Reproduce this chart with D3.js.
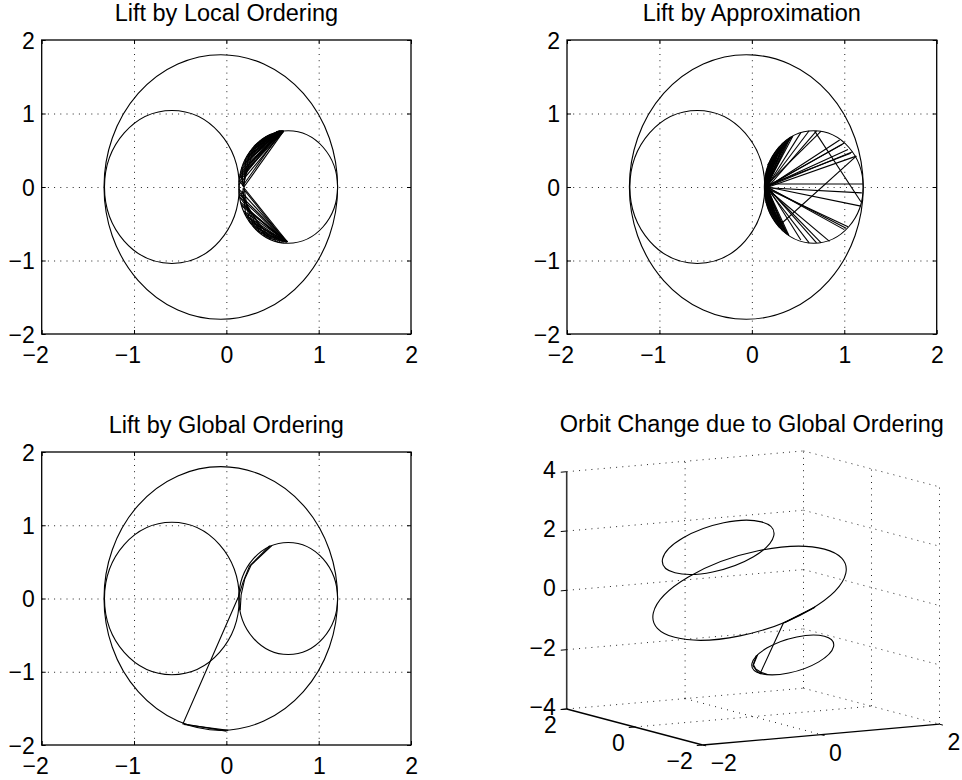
<!DOCTYPE html>
<html>
<head>
<meta charset="utf-8">
<script src="https://cdn.jsdelivr.net/npm/d3@7"></script>
<style>
    body { margin: 0; background: #fff; }
    svg text { font-family: "Liberation Sans", Arial, Helvetica, sans-serif; font-size: 23px; fill: #000; }
    svg text.title { font-size: 23.5px; }
</style>
</head>
<body>
<svg id="fig" width="962" height="780"></svg>
<script>
/* ---- data ---- */
var tickVals = [-2, -1, 0, 1, 2];
var gridVals = [-1, 0, 1];
var zTickVals = [-4, -2, 0, 2, 4];
var xyTickVals3d = [-2, 0, 2];
var titles = ["Lift by Local Ordering", "Lift by Approximation",
              "Lift by Global Ordering", "Orbit Change due to Global Ordering"];

// the three orbits (left, outer, right): centre x, half width, half height,
// z of the centre and slope dz/dx of the orbit plane
var orbitCX = [-0.59, -0.06, 0.67];
var orbitRX = [0.73, 1.265, 0.535];
var orbitRY = [1.04, 1.80, 0.765];
var orbitCZ = [1.81, 0.17, -2.04];
var orbitTilt = [1.0, 1.0, 1.0];

// lift by local ordering: segments [x1, y1, x2, y2]
var localSegs = [
    [0.19, 0.00, 0.62, 0.76], [0.18, 0.02, 0.60, 0.765], [0.135, 0.03, 0.62, 0.76],
    [0.137, 0.07, 0.58, 0.765], [0.14, 0.11, 0.62, 0.76], [0.147, 0.16, 0.60, 0.765],
    [0.156, 0.21, 0.62, 0.76], [0.167, 0.26, 0.56, 0.76], [0.181, 0.31, 0.62, 0.76],
    [0.198, 0.36, 0.59, 0.765], [0.216, 0.405, 0.62, 0.76], [0.237, 0.45, 0.57, 0.76],
    [0.26, 0.49, 0.62, 0.76], [0.285, 0.53, 0.60, 0.765], [0.312, 0.57, 0.62, 0.76],
    [0.341, 0.60, 0.58, 0.765], [0.371, 0.634, 0.62, 0.76], [0.402, 0.662, 0.60, 0.765],
    [0.444, 0.693, 0.62, 0.76],
    [0.143, 0.133, 0.61, 0.762], [0.151, 0.185, 0.59, 0.765], [0.161, 0.236, 0.61, 0.762],
    [0.174, 0.287, 0.57, 0.762], [0.189, 0.335, 0.61, 0.762], [0.207, 0.383, 0.55, 0.755],
    [0.226, 0.428, 0.61, 0.762], [0.248, 0.471, 0.58, 0.765], [0.272, 0.512, 0.61, 0.762],
    [0.298, 0.55, 0.56, 0.76], [0.326, 0.586, 0.61, 0.762], [0.356, 0.619, 0.59, 0.765],
    [0.386, 0.649, 0.61, 0.762], [0.419, 0.676, 0.57, 0.762],
    [0.19, 0.00, 0.14, 0.09], [0.19, 0.01, 0.15, 0.18], [0.18, 0.01, 0.17, 0.27],
    [0.19, 0.00, 0.21, 0.38], [0.185, 0.01, 0.25, 0.46], [0.18, 0.02, 0.30, 0.54],
    [0.19, -0.01, 0.66, -0.745], [0.18, -0.02, 0.65, -0.75], [0.135, -0.03, 0.66, -0.745],
    [0.14, -0.10, 0.66, -0.745], [0.156, -0.21, 0.64, -0.75], [0.167, -0.26, 0.66, -0.745],
    [0.19, -0.33, 0.66, -0.745], [0.216, -0.405, 0.62, -0.755], [0.237, -0.45, 0.66, -0.745],
    [0.26, -0.49, 0.60, -0.76], [0.285, -0.53, 0.66, -0.745], [0.312, -0.57, 0.56, -0.75],
    [0.341, -0.60, 0.66, -0.745], [0.40, -0.66, 0.66, -0.745], [0.46, -0.70, 0.66, -0.745],
    [0.143, -0.133, 0.65, -0.75], [0.161, -0.236, 0.66, -0.745], [0.207, -0.383, 0.65, -0.75],
    [0.248, -0.471, 0.66, -0.745], [0.298, -0.55, 0.64, -0.75], [0.37, -0.63, 0.66, -0.745],
    [0.17, -0.05, 0.30, -0.55], [0.16, -0.08, 0.36, -0.62], [0.19, 0.00, 0.25, -0.47],
    [0.15, -0.15, 0.48, -0.71], [0.18, -0.02, 0.21, -0.39], [0.14, -0.06, 0.42, -0.67],
    [0.20, -0.35, 0.46, -0.70]
];

// lift by approximation: segments [x1, y1, x2, y2]
var approxSegs = [
    [0.15, 0.00, 0.137, 0.07], [0.16, 0.00, 0.147, 0.159], [0.15, 0.01, 0.156, 0.211],
    [0.16, -0.01, 0.167, 0.262], [0.15, 0.00, 0.181, 0.311], [0.16, 0.01, 0.198, 0.359],
    [0.15, 0.00, 0.216, 0.405], [0.16, 0.00, 0.237, 0.45], [0.15, 0.02, 0.26, 0.492],
    [0.16, 0.00, 0.285, 0.531], [0.15, 0.00, 0.312, 0.568], [0.17, 0.00, 0.341, 0.603],
    [0.15, 0.01, 0.371, 0.634], [0.16, 0.00, 0.402, 0.662], [0.15, -0.01, 0.444, 0.693],
    [0.15, 0.00, 0.143, 0.133], [0.16, 0.01, 0.151, 0.185], [0.15, 0.00, 0.161, 0.236],
    [0.16, 0.00, 0.174, 0.287], [0.15, 0.01, 0.189, 0.335], [0.16, 0.00, 0.207, 0.383],
    [0.15, 0.00, 0.226, 0.428], [0.16, 0.01, 0.248, 0.471], [0.15, 0.00, 0.272, 0.512],
    [0.16, 0.00, 0.298, 0.55], [0.15, 0.01, 0.326, 0.586], [0.16, 0.00, 0.356, 0.619],
    [0.15, 0.00, 0.386, 0.649], [0.16, 0.00, 0.419, 0.676],
    [0.14, 0.10, 0.42, 0.68], [0.156, 0.211, 0.39, 0.65], [0.14, 0.05, 0.33, 0.59],
    [0.15, 0.15, 0.36, 0.62], [0.17, 0.30, 0.44, 0.69], [0.145, 0.12, 0.30, 0.55],
    [0.17, 0.02, 0.53, 0.74], [0.16, 0.00, 0.62, 0.765], [0.18, 0.01, 0.70, 0.765],
    [0.16, 0.03, 0.75, 0.76], [0.17, 0.00, 0.95, 0.64], [0.18, 0.02, 0.98, 0.58],
    [0.16, 0.00, 1.00, 0.60], [0.17, 0.01, 1.04, 0.51], [0.16, 0.02, 1.07, 0.46],
    [0.18, 0.00, 1.13, 0.42], [0.16, 0.00, 1.09, 0.48], [0.17, 0.04, 1.20, 0.04],
    [0.68, 0.76, 1.18, -0.20], [0.30, -0.52, 1.13, 0.42],
    [0.16, -0.01, 1.19, -0.08], [0.17, 0.00, 1.18, -0.26], [0.16, -0.02, 1.04, -0.54],
    [0.18, -0.01, 1.00, -0.58], [0.16, 0.00, 1.02, -0.56], [0.17, -0.03, 0.84, -0.74],
    [0.16, 0.00, 0.75, -0.76], [0.18, -0.02, 0.70, -0.76], [0.16, -0.01, 0.62, -0.76],
    [0.17, 0.00, 0.53, -0.72],
    [0.15, 0.00, 0.137, -0.07], [0.16, 0.00, 0.147, -0.159], [0.15, -0.01, 0.156, -0.211],
    [0.16, 0.01, 0.167, -0.262], [0.15, 0.00, 0.181, -0.311], [0.16, -0.01, 0.198, -0.359],
    [0.15, 0.00, 0.216, -0.405], [0.16, 0.00, 0.237, -0.45], [0.15, -0.02, 0.26, -0.492],
    [0.16, 0.00, 0.285, -0.531], [0.15, 0.00, 0.312, -0.568], [0.17, 0.00, 0.341, -0.603],
    [0.15, -0.01, 0.371, -0.634], [0.16, 0.00, 0.402, -0.662],
    [0.15, 0.00, 0.143, -0.133], [0.16, -0.01, 0.151, -0.185], [0.15, 0.00, 0.161, -0.236],
    [0.16, 0.00, 0.174, -0.287], [0.15, -0.01, 0.189, -0.335], [0.16, 0.00, 0.207, -0.383],
    [0.15, 0.00, 0.226, -0.428], [0.16, -0.01, 0.248, -0.471], [0.15, 0.00, 0.272, -0.512],
    [0.16, 0.00, 0.298, -0.55], [0.15, -0.01, 0.326, -0.586], [0.16, 0.00, 0.356, -0.619],
    [0.15, 0.00, 0.386, -0.649],
    [0.14, -0.10, 0.38, -0.64], [0.15, -0.20, 0.40, -0.66], [0.14, -0.05, 0.33, -0.59],
    [0.145, -0.12, 0.30, -0.55]
];

// lift by global ordering: strands as [x, y, z]
var globalStrands = [
    [[0.49, 0.72, -2.22], [0.27, 0.46, -2.44], [0.20, 0.27, -2.51], [0.16, 0.05, -2.55], [0.15, -0.16, -2.56]],
    [[0.47, 0.72, -2.24], [0.25, 0.44, -2.46], [0.18, 0.22, -2.53], [0.13, 0.02, -2.58],
     [-0.47, -1.71, -0.24], [0.00, -1.81, 0.23]],
    [[-0.46, -1.72, -0.23], [0.02, -1.80, 0.25]]
];

/* ---- layout ---- */
var svg = d3.select("#fig");
var panels2d = [
    { left: 41.7, top: 40, width: 369.3, height: 294, title: titles[0], segs: localSegs },
    { left: 567, top: 40, width: 369.7, height: 294, title: titles[1], segs: approxSegs },
    { left: 41.7, top: 452, width: 369.3, height: 293, title: titles[2], strands: globalStrands }
];

function fmt(d) {
    return d < 0 ? "\u2212" + Math.abs(d) : String(d);
}

/**
 * Draw one 2D orbit panel
 */
function drawPanel2d(p) {
    var x = d3.scaleLinear().domain([-2, 2]).range([p.left, p.left + p.width]);
    var y = d3.scaleLinear().domain([-2, 2]).range([p.top + p.height, p.top]);
    var g = svg.append("g");

    // dotted grid
    var gx = g.append("g").attr("transform", "translate(0," + (p.top + p.height) + ")")
        .call(d3.axisBottom(x).tickValues(gridVals).tickSize(-p.height).tickFormat(""));
    var gy = g.append("g").attr("transform", "translate(" + p.left + ",0)")
        .call(d3.axisLeft(y).tickValues(gridVals).tickSize(-p.width).tickFormat(""));
    [gx, gy].forEach(function (a) {
        a.select(".domain").remove();
        a.selectAll("line").attr("stroke", "#222").attr("stroke-dasharray", "1 5.2");
    });

    // axes with inward ticks
    var bottom = g.append("g").attr("transform", "translate(0," + (p.top + p.height) + ")")
        .call(d3.axisBottom(x).tickValues(tickVals).tickSizeInner(-4).tickSizeOuter(0).tickFormat(fmt));
    bottom.selectAll("text").attr("y", 29).attr("dy", null).attr("x", 6.5)
        .attr("text-anchor", "end").attr("font-size", null).attr("font-family", null);
    var left = g.append("g").attr("transform", "translate(" + p.left + ",0)")
        .call(d3.axisLeft(y).tickValues(tickVals).tickSizeInner(-4).tickSizeOuter(0).tickFormat(fmt));
    left.selectAll("text").attr("x", -7).attr("y", 8).attr("dy", null)
        .attr("font-size", null).attr("font-family", null);
    var top = g.append("g").attr("transform", "translate(0," + p.top + ")")
        .call(d3.axisTop(x).tickValues(tickVals).tickSizeInner(-4).tickSizeOuter(0).tickFormat(""));
    var right = g.append("g").attr("transform", "translate(" + (p.left + p.width) + ",0)")
        .call(d3.axisRight(y).tickValues(tickVals).tickSizeInner(-4).tickSizeOuter(0).tickFormat(""));
    [bottom, left, top, right].forEach(function (a) { a.select(".domain").remove(); });

    g.append("rect")
        .attr("x", p.left).attr("y", p.top)
        .attr("width", p.width).attr("height", p.height)
        .attr("fill", "none").attr("stroke", "#000").attr("stroke-width", 1.3);

    // orbits
    g.selectAll("ellipse.orbit").data(orbitCX).enter().append("ellipse")
        .attr("class", "orbit")
        .attr("cx", function (d) { return x(d); })
        .attr("cy", y(0))
        .attr("rx", function (d, i) { return x(d + orbitRX[i]) - x(d); })
        .attr("ry", function (d, i) { return y(0) - y(orbitRY[i]); })
        .attr("fill", "none").attr("stroke", "#000").attr("stroke-width", 1.1);

    if (p.segs) {
        g.selectAll("line.seg").data(p.segs).enter().append("line")
            .attr("class", "seg")
            .attr("x1", function (d) { return x(d[0]); })
            .attr("y1", function (d) { return y(d[1]); })
            .attr("x2", function (d) { return x(d[2]); })
            .attr("y2", function (d) { return y(d[3]); })
            .attr("stroke", "#000").attr("stroke-width", 1.1);
    }
    if (p.strands) {
        var line = d3.line().x(function (d) { return x(d[0]); }).y(function (d) { return y(d[1]); });
        g.selectAll("path.strand").data(p.strands).enter().append("path")
            .attr("class", "strand")
            .attr("d", line)
            .attr("fill", "none").attr("stroke", "#000").attr("stroke-width", 1.1);
    }

    g.append("text").attr("class", "title")
        .attr("x", p.left + p.width / 2).attr("y", p.top - 19)
        .attr("text-anchor", "middle").text(p.title);
}

panels2d.forEach(drawPanel2d);

/* ---- 3D panel (orthographic view) ---- */
var box3 = { ox: 566.7, oy: 709, ex: [236.8, -20.8], ey: [136, 36], ez: [0, -237.3] };
var xs3 = d3.scaleLinear().domain([-2, 2]).range([0, 1]);
var ys3 = d3.scaleLinear().domain([2, -2]).range([0, 1]);
var zs3 = d3.scaleLinear().domain([-4, 4]).range([0, 1]);

function project(px, py, pz) {
    var a = xs3(px), b = ys3(py), c = zs3(pz);
    return [box3.ox + a * box3.ex[0] + b * box3.ey[0] + c * box3.ez[0],
            box3.oy + a * box3.ex[1] + b * box3.ey[1] + c * box3.ez[1]];
}

var g3 = svg.append("g");

function seg3(p, q, dotted) {
    var a = project(p[0], p[1], p[2]), b = project(q[0], q[1], q[2]);
    var l = g3.append("line")
        .attr("x1", a[0]).attr("y1", a[1]).attr("x2", b[0]).attr("y2", b[1])
        .attr("stroke", dotted ? "#222" : "#000").attr("stroke-width", dotted ? 1 : 1.3);
    if (dotted) l.attr("stroke-dasharray", "1 5.2");
    return l;
}

// grid on the back walls and the floor
zTickVals.forEach(function (z) {
    seg3([-2, 2, z], [2, 2, z], true);
    seg3([2, 2, z], [2, -2, z], true);
});
xyTickVals3d.slice(1).forEach(function (v) {
    seg3([v, 2, -4], [v, 2, 4], true);
    seg3([2, -v, -4], [2, -v, 4], true);
});
seg3([0, 2, -4], [0, -2, -4], true);
seg3([-2, 0, -4], [2, 0, -4], true);

// axes
seg3([-2, 2, -4], [-2, 2, 4], false).attr("stroke", "#333").attr("stroke-width", 1.6);
seg3([-2, 2, -4], [-2, -2, -4], false);
seg3([-2, -2, -4], [2, -2, -4], false);

zTickVals.forEach(function (z) {
    seg3([-2, 2, z], [-2.1, 2, z], false).attr("stroke-width", 1);
    var p = project(-2, 2, z);
    g3.append("text").attr("x", p[0] - 11).attr("y", p[1] + 6)
        .attr("text-anchor", "end").text(fmt(z));
});
xyTickVals3d.forEach(function (v) {
    seg3([-2, v, -4], [-2.1, v, -4], false).attr("stroke-width", 1);
    var p = project(-2, v, -4);
    g3.append("text").attr("x", p[0] - 10).attr("y", p[1] + 24)
        .attr("text-anchor", "end").text(fmt(v));
    seg3([v, -2, -4], [v, -2.1, -4], false).attr("stroke-width", 1);
    var q = project(v, -2, -4);
    g3.append("text").attr("x", q[0] + 8).attr("y", q[1] + 26)
        .attr("text-anchor", "start").text(fmt(v));
});

// orbits: unit circle mapped through the projected orbit plane
orbitCX.forEach(function (cx, i) {
    var c = project(cx, 0, orbitCZ[i]);
    var u = project(cx + orbitRX[i], 0, orbitCZ[i] + orbitTilt[i] * orbitRX[i]);
    var v = project(cx, orbitRY[i], orbitCZ[i]);
    g3.append("circle")
        .attr("r", 1)
        .attr("transform", "matrix(" + [u[0] - c[0], u[1] - c[1], v[0] - c[0], v[1] - c[1], c[0], c[1]].join(",") + ")")
        .attr("fill", "none").attr("stroke", "#000").attr("stroke-width", 1.1)
        .attr("vector-effect", "non-scaling-stroke");
});

var line3 = d3.line()
    .x(function (d) { return project(d[0], d[1], d[2])[0]; })
    .y(function (d) { return project(d[0], d[1], d[2])[1]; });
g3.selectAll("path.strand").data(globalStrands).enter().append("path")
    .attr("class", "strand")
    .attr("d", line3)
    .attr("fill", "none").attr("stroke", "#000").attr("stroke-width", 1.1);

g3.append("text").attr("class", "title")
    .attr("x", (567 + 936.7) / 2).attr("y", 432)
    .attr("text-anchor", "middle").text(titles[3]);
</script>
</body>
</html>
